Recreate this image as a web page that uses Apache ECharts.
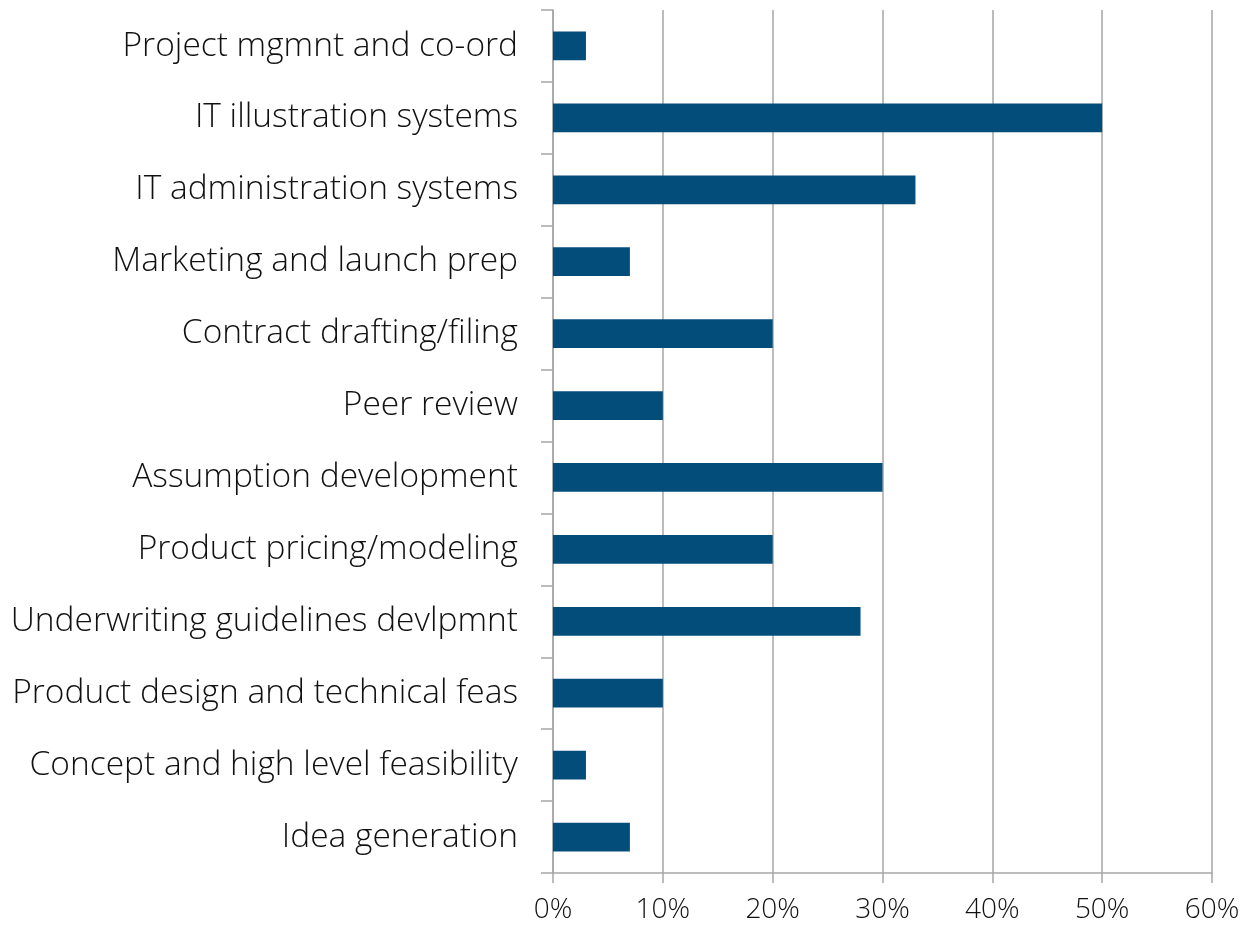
<!DOCTYPE html>
<html>
<head>
<meta charset="utf-8">
<script src="https://cdn.jsdelivr.net/npm/echarts@6/dist/echarts.min.js"></script>
<style>
html, body { margin: 0; padding: 0; background: #fff; }
#chart { width: 1243px; height: 927px; }
</style>
</head>
<body>
<div id="chart"></div>
<script>
// categories bottom to top (as ECharts category y-axis draws them)
var categories = [
  'Idea generation',
  'Concept and high level feasibility',
  'Product design and technical feas',
  'Underwriting guidelines devlpmnt',
  'Product pricing/modeling',
  'Assumption development',
  'Peer review',
  'Contract drafting/filing',
  'Marketing and launch prep',
  'IT administration systems',
  'IT illustration systems',
  'Project mgmnt and co-ord'
];
var shares = [7, 3, 10, 28, 20, 30, 10, 20, 7, 33, 50, 3];

var chart = echarts.init(document.getElementById('chart'));
var fontFam = '"Open Sans", "Noto Sans", sans-serif';

chart.setOption({
  animation: false,
  grid: { left: 553, right: 31, top: 10, bottom: 54 },
  xAxis: {
    type: 'value',
    min: 0, max: 60, interval: 10,
    axisLine: { show: true, lineStyle: { color: '#a6a6a6', width: 1.5 } },
    axisTick: { show: true, length: 10, lineStyle: { color: '#a6a6a6', width: 1.5 } },
    splitLine: { show: true, lineStyle: { color: '#a6a6a6', width: 1.5 } },
    axisLabel: {
      formatter: '{value}%', color: '#111', fontSize: 28,
      fontFamily: fontFam, fontWeight: 300, margin: 23
    }
  },
  yAxis: {
    type: 'category',
    data: categories,
    axisLine: { show: true, lineStyle: { color: '#a6a6a6', width: 1.5 } },
    axisTick: { show: true, length: 12, lineStyle: { color: '#a6a6a6', width: 1.5 } },
    axisLabel: {
      color: '#111', fontSize: 33.5, fontFamily: fontFam,
      fontWeight: 300, margin: 35
    }
  },
  series: [{
    type: 'bar',
    data: shares,
    barWidth: '40%',
    itemStyle: { color: '#034d7b' }
  }]
});
</script>
</body>
</html>
